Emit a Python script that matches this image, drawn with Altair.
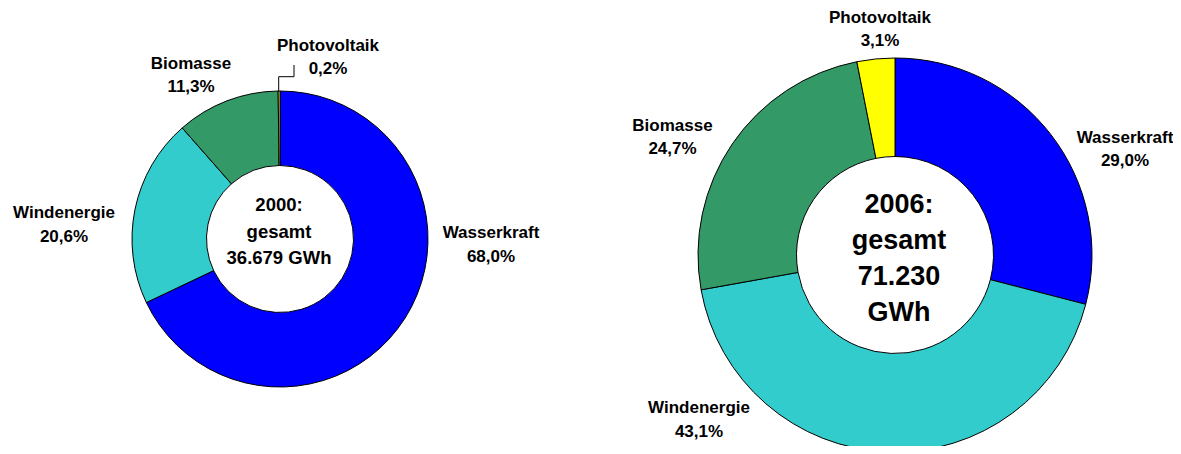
import altair as alt
import pandas as pd

# ---- data ----
categories = ["Wasserkraft", "Windenergie", "Biomasse", "Photovoltaik"]
share_2000 = [68.0, 20.6, 11.3, 0.2]
share_2006 = [29.0, 43.1, 24.7, 3.1]
center_2000 = ["2000:", "gesamt", "36.679 GWh"]
center_2006 = ["2006:", "gesamt", "71.230", "GWh"]

# ---- styles / layout ----
colors = ["#0000FF", "#33CCCC", "#339966", "#FFFF00"]
FONT = "Liberation Sans"
pie_2000 = dict(cx=272, cy=231, r_out=148, r_in=73.5)
pie_2006 = dict(cx=887, cy=247, r_out=197, r_in=98.5)
label_x_2000 = [483, 56, 183, 320]
label_y_2000 = [230.3, 210.3, 61, 42.7]
label_x_2006 = [1117, 691, 664.5, 872]
label_y_2006 = [134.7, 405.3, 122.7, 14.7]


def fmt(v):
    return f"{v:.1f}".replace(".", ",") + "%"


def pie_df(values, lx, ly):
    return pd.DataFrame({
        "cat": categories,
        "val": values,
        "idx": list(range(len(categories))),
        "label": [f"{c}\n{fmt(v)}" for c, v in zip(categories, values)],
        "lx": lx,
        "ly": ly,
    })


color_scale = alt.Scale(domain=categories, range=colors)


def arc_layer(df, p):
    return alt.Chart(df).mark_arc(
        outerRadius=p["r_out"], innerRadius=p["r_in"],
        stroke="black", strokeWidth=1
    ).encode(
        theta=alt.Theta("val:Q", stack="normalize"),
        color=alt.Color("cat:N", scale=color_scale, legend=None),
        order=alt.Order("idx:Q"),
        x=alt.value(p["cx"]),
        y=alt.value(p["cy"]),
    )


def label_layer(df):
    return alt.Chart(df).mark_text(
        font=FONT, fontSize=17, fontWeight="bold", color="black",
        align="center", baseline="alphabetic", lineBreak="\n", lineHeight=23.3
    ).encode(
        x=alt.X("lx:Q", scale=None, axis=None),
        y=alt.Y("ly:Q", scale=None, axis=None),
        text="label:N",
    )


def center_layer(lines, x, y, size, lh):
    df = pd.DataFrame({"t": ["\n".join(lines)]})
    return alt.Chart(df).mark_text(
        font=FONT, fontSize=size, fontWeight="bold", color="black",
        align="center", baseline="alphabetic", lineBreak="\n", lineHeight=lh
    ).encode(x=alt.value(x), y=alt.value(y), text="t:N")


df00 = pie_df(share_2000, label_x_2000, label_y_2000)
df06 = pie_df(share_2006, label_x_2006, label_y_2006)

lead = pd.DataFrame({"k": [0]})
leader = [
    alt.Chart(lead).mark_rule(color="black", strokeWidth=1).encode(
        x=alt.value(270.7), x2=alt.value(270.7), y=alt.value(83.7), y2=alt.value(68.7)),
    alt.Chart(lead).mark_rule(color="black", strokeWidth=1).encode(
        x=alt.value(270.7), x2=alt.value(286), y=alt.value(68.7), y2=alt.value(68.7)),
    alt.Chart(lead).mark_rule(color="black", strokeWidth=1).encode(
        x=alt.value(286), x2=alt.value(286), y=alt.value(68.7), y2=alt.value(57)),
]

chart = alt.layer(
    arc_layer(df00, pie_2000),
    arc_layer(df06, pie_2006),
    label_layer(df00),
    label_layer(df06),
    center_layer(center_2000, 271, 203, 18.5, 26.5),
    center_layer(center_2006, 891, 204.7, 27, 36),
    *leader,
).properties(
    width=1165, height=438, padding=0, autosize="none", background="white"
).configure_view(stroke=None)

chart.save("out.html", embed_options={"renderer": "svg", "actions": False})
